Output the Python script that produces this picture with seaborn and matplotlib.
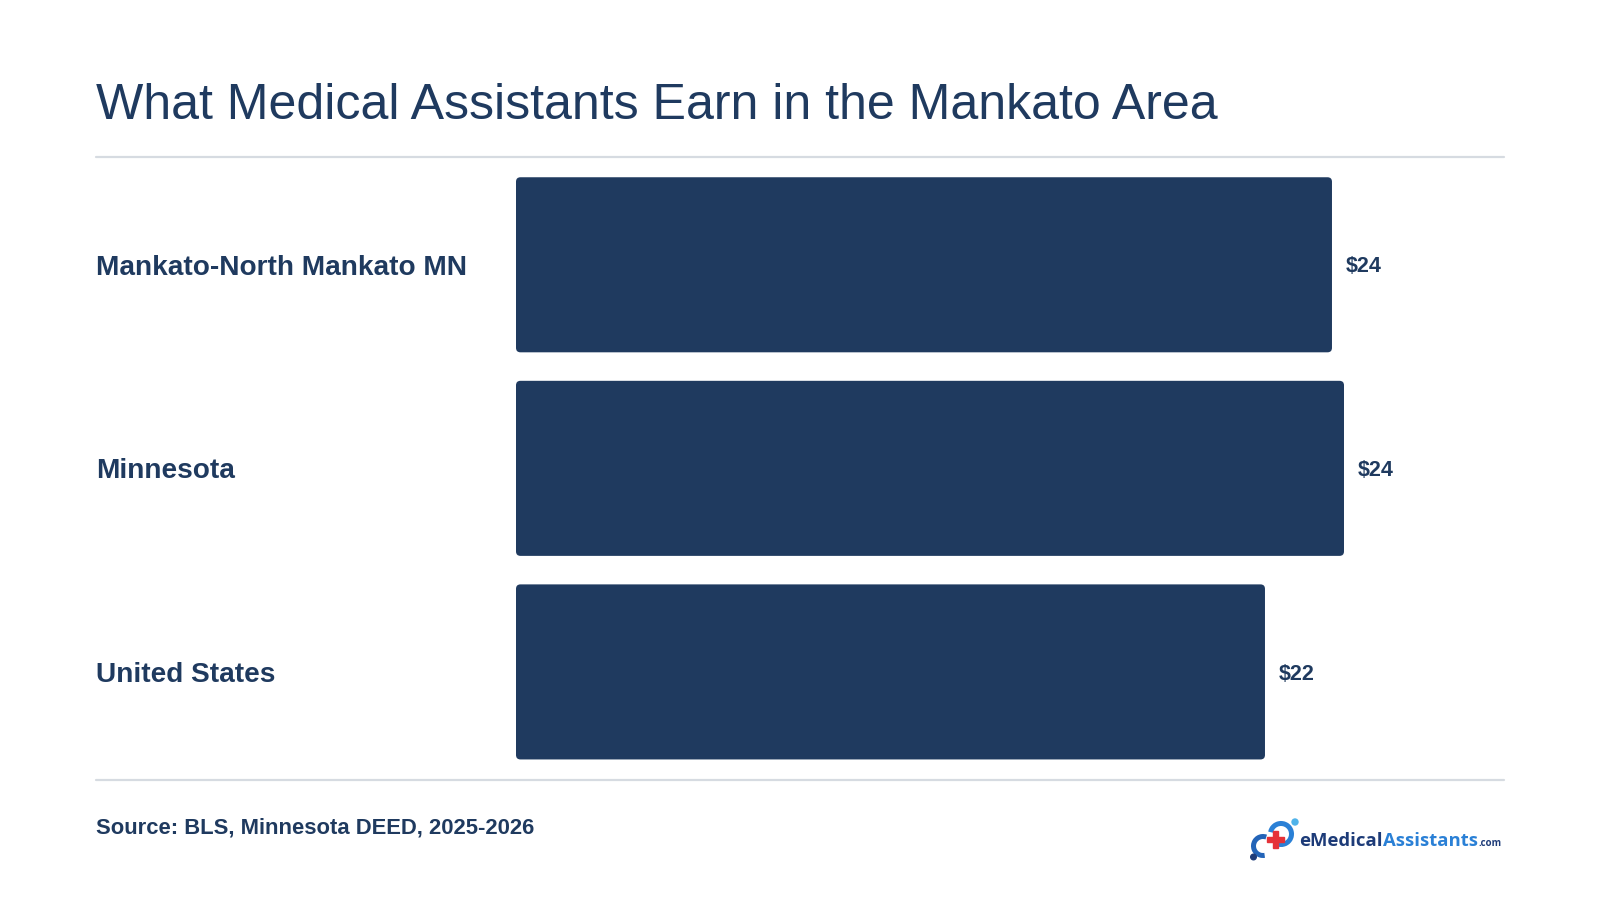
import matplotlib
matplotlib.use("Agg")
import matplotlib.pyplot as plt
from matplotlib.patches import FancyBboxPatch, Circle, Rectangle, Arc
import seaborn as sns
import pandas as pd

categories = ["Mankato-North Mankato MN", "Minnesota", "United States"]
wages = [23.75, 24.10, 21.80]
value_labels = ["$24", "$24", "$22"]
title = "What Medical Assistants Earn in the Mankato Area"
source = "Source: BLS, Minnesota DEED, 2025-2026"

NAVY = "#1f3a5f"
RULE = "#d6dbe1"
LOGO_NAVY = "#1d3b78"
LOGO_BLUE = "#2a80d6"

sns.set_theme(style="white")
plt.rcParams["font.family"] = ["Liberation Sans", "DejaVu Sans"]

df = pd.DataFrame({"category": categories, "wage": wages})

W, H = 1600, 900
fig = plt.figure(figsize=(16, 9), dpi=100)
fig.patch.set_facecolor("white")

ax_left, ax_right = 516 / W, 1504 / W
ax_top, ax_bottom = 1 - 163 / H, 1 - 773.7 / H
ax = fig.add_axes([ax_left, ax_bottom, ax_right - ax_left, ax_top - ax_bottom])

sns.barplot(data=df, y="category", x="wage", orient="h", color=NAVY,
            width=0.86, saturation=1, ax=ax)

xmax = 24.10 * 988 / 828
ax.set_xlim(0, xmax)
ax.set_ylim(2.5, -0.5)

# round the bar corners
ax_w_px = 988
ax_h_px = 773.7 - 163
rx = 4.5 * xmax / ax_w_px
ry = 4.5 * 3 / ax_h_px
for p in list(ax.patches):
    x0, y0 = p.get_x(), p.get_y()
    w, h = p.get_width(), p.get_height()
    p.set_visible(False)
    fb = FancyBboxPatch((x0, y0), w, h,
                        boxstyle=f"round,pad=0,rounding_size={rx}",
                        mutation_aspect=ry / rx,
                        facecolor=NAVY, edgecolor="none", zorder=2)
    ax.add_patch(fb)

for i, (v, lab) in enumerate(zip(wages, value_labels)):
    ax.annotate(lab, (v, i), xytext=(10, -1.5), textcoords="offset points",
                ha="left", va="center", fontsize=15.5, fontweight="bold",
                color=NAVY)

ax.set_xlabel("")
ax.set_ylabel("")
ax.set_xticks([])
ax.tick_params(axis="y", length=0, pad=420 * 72 / 100)
for t in ax.get_yticklabels():
    t.set_horizontalalignment("left")
    t.set_fontsize(20.2)
    t.set_fontweight("bold")
    t.set_color(NAVY)
for s in ax.spines.values():
    s.set_visible(False)
ax.patch.set_alpha(0)

# title
fig.text(96 / W, 1 - 106 / H, title, fontsize=36.1, color=NAVY,
         ha="left", va="center")

# rules
fig.add_artist(plt.Line2D([96 / W, 1504 / W], [1 - 157 / H, 1 - 157 / H],
                          color=RULE, lw=1.6))
fig.add_artist(plt.Line2D([96 / W, 1504 / W], [1 - 780 / H, 1 - 780 / H],
                          color=RULE, lw=1.6))

# source
fig.text(96 / W, 1 - 828 / H, source, fontsize=15.8, fontweight="bold",
         color=NAVY, ha="left", va="center")

# logo text
renderer = fig.canvas.get_renderer()
logo_font = ["Open Sans", "DejaVu Sans"]
y_logo = 1 - 846 / H
t1 = fig.text(1299 / W, y_logo, "eMedical", fontsize=13.3, fontweight="bold",
              color=LOGO_NAVY, ha="left", va="baseline", family=logo_font)
bb1 = t1.get_window_extent(renderer)
t2 = fig.text(bb1.x1 / W + 0.3 / W, y_logo, "Assistants", fontsize=13.3,
              fontweight="bold", color=LOGO_BLUE, ha="left", va="baseline",
              family=logo_font)
bb2 = t2.get_window_extent(renderer)
fig.text(bb2.x1 / W + 1 / W, y_logo, ".com", fontsize=7, fontweight="bold",
         color=LOGO_NAVY, ha="left", va="baseline", family=logo_font)

# logo icon (pixel coordinates, y downward)
lax = fig.add_axes([1246 / W, 1 - 862 / H, 54 / W, 48 / H])
lax.set_xlim(1246, 1300)
lax.set_ylim(862, 814)
lax.axis("off")
lax.add_patch(Arc((1263, 846), 19, 19, theta1=80, theta2=290,
                  color="#2364b8", lw=3.6))
lax.add_patch(Arc((1281, 834), 21, 21, theta1=-170, theta2=110,
                  color=LOGO_BLUE, lw=3.6))
lax.add_patch(Circle((1253.5, 857), 2.8, color=LOGO_NAVY))
lax.add_patch(Circle((1295, 822), 3.0, color="#4fb3ea"))
lax.add_patch(Rectangle((1272.5, 831), 5, 17, color="#e53238", zorder=3))
lax.add_patch(Rectangle((1266.5, 837), 17, 5, color="#e53238", zorder=3))

fig.savefig("out.png", dpi=100, facecolor="white")
